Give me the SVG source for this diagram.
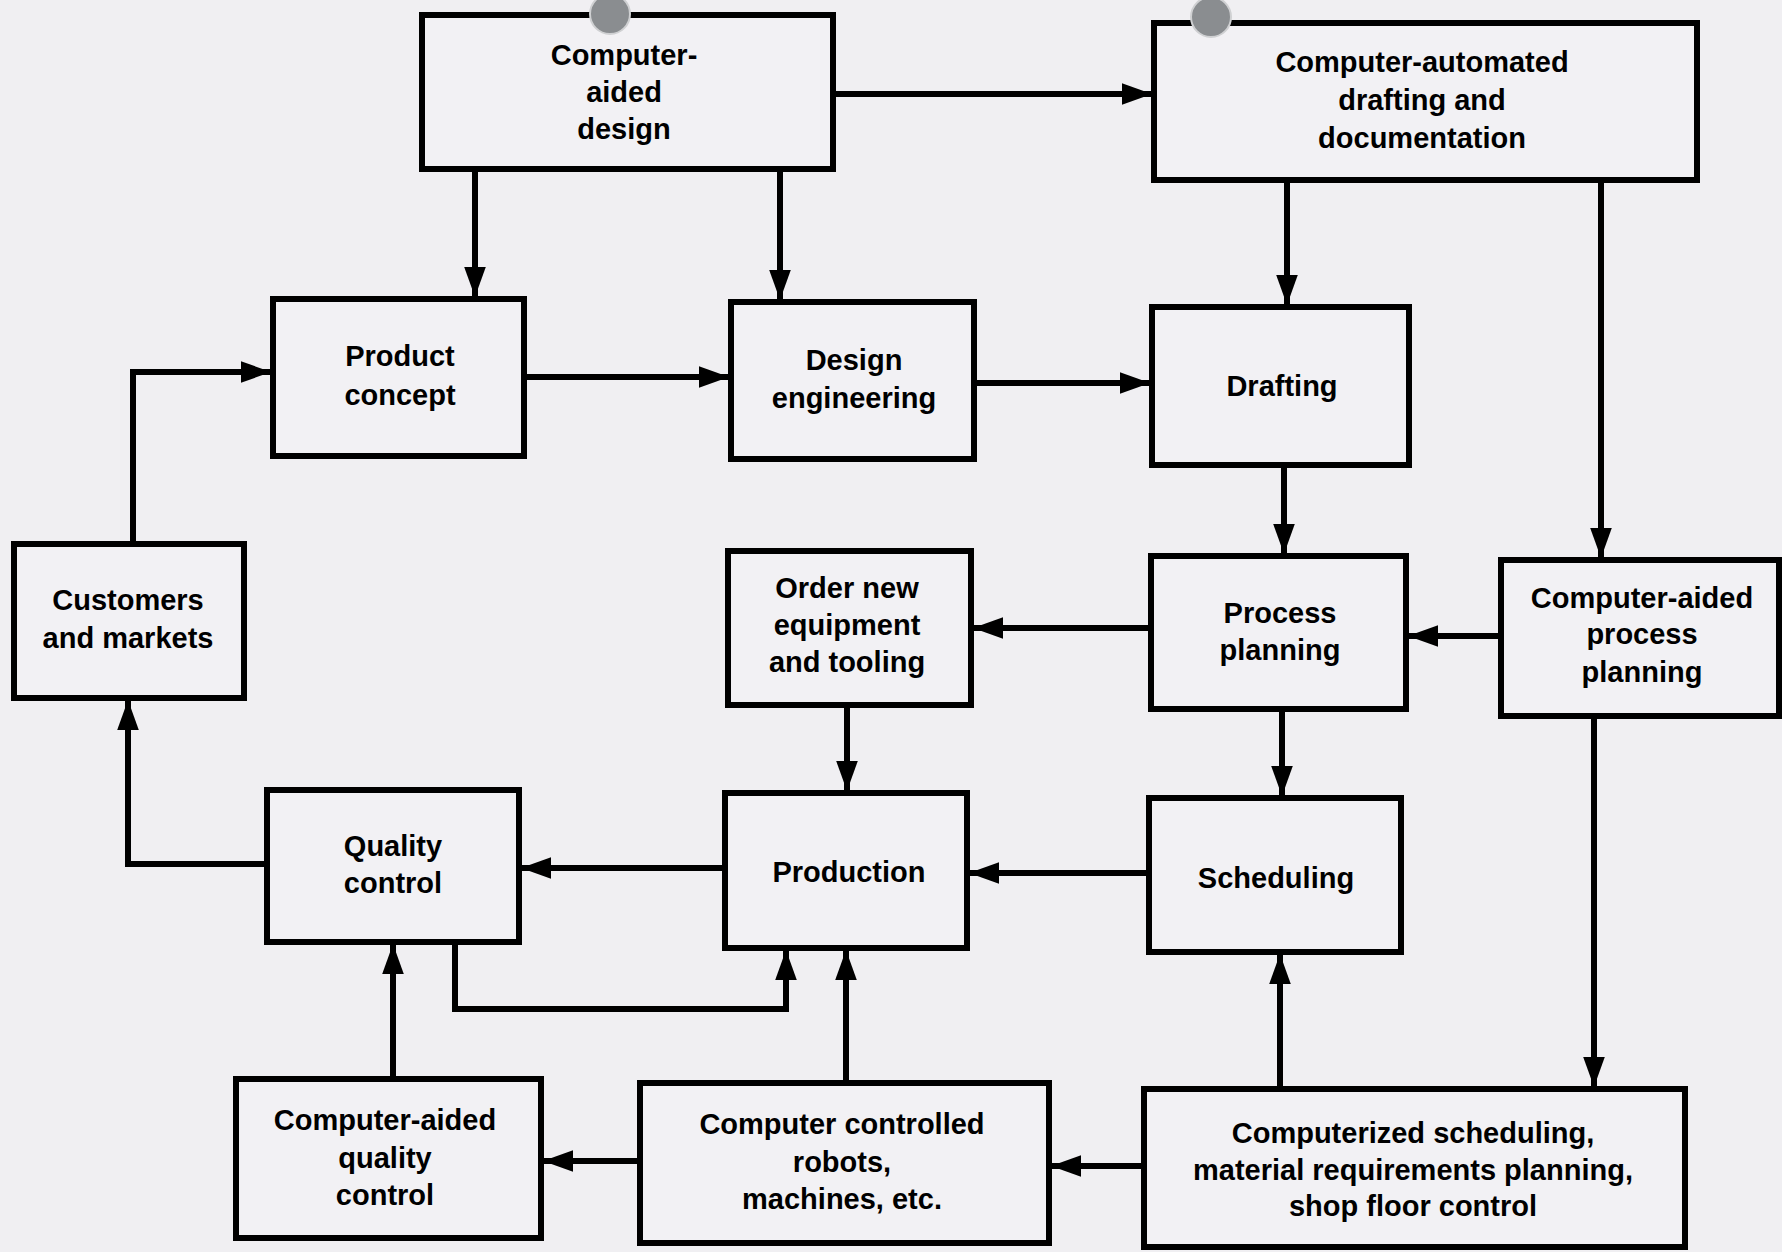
<svg xmlns="http://www.w3.org/2000/svg" width="1782" height="1252" viewBox="0 0 1782 1252">
<defs>
<marker id="ah" markerWidth="5" markerHeight="3.6" refX="5" refY="1.8" orient="auto" markerUnits="strokeWidth">
<path d="M0,0 L5,1.8 L0,3.6 Z" fill="#000"/>
</marker>
</defs>
<style>
.box{fill:#f2f1f4;stroke:#000;stroke-width:6}
.t{font-family:"Liberation Sans",Arial,sans-serif;font-weight:bold;font-size:29px;fill:#000;text-anchor:middle}
.c{fill:none;stroke:#000;stroke-width:6;marker-end:url(#ah)}
.pin{fill:#8a8d90;stroke:#cfd0d2;stroke-width:2}
</style>
<rect width="1782" height="1252" fill="#f0eff2"/>
<g id="connectors">
<line class="c" x1="833" y1="94" x2="1152" y2="94"/>
<line class="c" x1="475" y1="169" x2="475" y2="297"/>
<line class="c" x1="780" y1="169" x2="780" y2="300"/>
<line class="c" x1="524" y1="377" x2="729" y2="377"/>
<line class="c" x1="974" y1="383" x2="1150" y2="383"/>
<line class="c" x1="1287" y1="180" x2="1287" y2="305"/>
<line class="c" x1="1601" y1="180" x2="1601" y2="558"/>
<line class="c" x1="1284" y1="465" x2="1284" y2="554"/>
<line class="c" x1="1151" y1="628" x2="973" y2="628"/>
<line class="c" x1="1501" y1="636" x2="1408" y2="636"/>
<line class="c" x1="847" y1="705" x2="847" y2="791"/>
<line class="c" x1="1282" y1="709" x2="1282" y2="796"/>
<line class="c" x1="1149" y1="873" x2="969" y2="873"/>
<line class="c" x1="725" y1="868" x2="521" y2="868"/>
<polyline class="c" points="267,864 128,864 128,700"/>
<polyline class="c" points="133,544 133,372 271,372"/>
<polyline class="c" points="455,942 455,1009 786,1009 786,950"/>
<line class="c" x1="393" y1="1079" x2="393" y2="944"/>
<line class="c" x1="846" y1="1083" x2="846" y2="950"/>
<line class="c" x1="640" y1="1161" x2="543" y2="1161"/>
<line class="c" x1="1144" y1="1166" x2="1051" y2="1166"/>
<line class="c" x1="1280" y1="1089" x2="1280" y2="954"/>
<line class="c" x1="1594" y1="716" x2="1594" y2="1087"/>
</g>
<g id="cad"><rect class="box" x="422" y="15" width="411" height="154"/>
<text class="t" x="624" y="65">Computer-</text><text class="t" x="624" y="102">aided</text><text class="t" x="624" y="139">design</text></g>
<g id="cadd"><rect class="box" x="1154" y="23" width="543" height="157"/>
<text class="t" x="1422" y="72">Computer-automated</text><text class="t" x="1422" y="110">drafting and</text><text class="t" x="1422" y="148">documentation</text></g>
<g id="product"><rect class="box" x="273" y="299" width="251" height="157"/>
<text class="t" x="400" y="366">Product</text><text class="t" x="400" y="405">concept</text></g>
<g id="design"><rect class="box" x="731" y="302" width="243" height="157"/>
<text class="t" x="854" y="370">Design</text><text class="t" x="854" y="408">engineering</text></g>
<g id="drafting"><rect class="box" x="1152" y="307" width="257" height="158"/>
<text class="t" x="1282" y="396">Drafting</text></g>
<g id="customers"><rect class="box" x="14" y="544" width="230" height="154"/>
<text class="t" x="128" y="610">Customers</text><text class="t" x="128" y="648">and markets</text></g>
<g id="order"><rect class="box" x="728" y="551" width="243" height="154"/>
<text class="t" x="847" y="598">Order new</text><text class="t" x="847" y="635">equipment</text><text class="t" x="847" y="672">and tooling</text></g>
<g id="process"><rect class="box" x="1151" y="556" width="255" height="153"/>
<text class="t" x="1280" y="623">Process</text><text class="t" x="1280" y="660">planning</text></g>
<g id="capp"><rect class="box" x="1501" y="560" width="278" height="156"/>
<text class="t" x="1642" y="608">Computer-aided</text><text class="t" x="1642" y="644">process</text><text class="t" x="1642" y="682">planning</text></g>
<g id="quality"><rect class="box" x="267" y="790" width="252" height="152"/>
<text class="t" x="393" y="856">Quality</text><text class="t" x="393" y="893">control</text></g>
<g id="production"><rect class="box" x="725" y="793" width="242" height="155"/>
<text class="t" x="849" y="882">Production</text></g>
<g id="scheduling"><rect class="box" x="1149" y="798" width="252" height="154"/>
<text class="t" x="1276" y="888">Scheduling</text></g>
<g id="caqc"><rect class="box" x="236" y="1079" width="305" height="159"/>
<text class="t" x="385" y="1130">Computer-aided</text><text class="t" x="385" y="1168">quality</text><text class="t" x="385" y="1205">control</text></g>
<g id="robots"><rect class="box" x="640" y="1083" width="409" height="160"/>
<text class="t" x="842" y="1134">Computer controlled</text><text class="t" x="842" y="1172">robots,</text><text class="t" x="842" y="1209">machines, etc.</text></g>
<g id="csched"><rect class="box" x="1144" y="1089" width="541" height="158"/>
<text class="t" x="1413" y="1143">Computerized scheduling,</text><text class="t" x="1413" y="1180">material requirements planning,</text><text class="t" x="1413" y="1216">shop floor control</text></g>
<circle class="pin" cx="610" cy="14" r="20"/>
<circle class="pin" cx="1211" cy="17" r="20"/>
</svg>
